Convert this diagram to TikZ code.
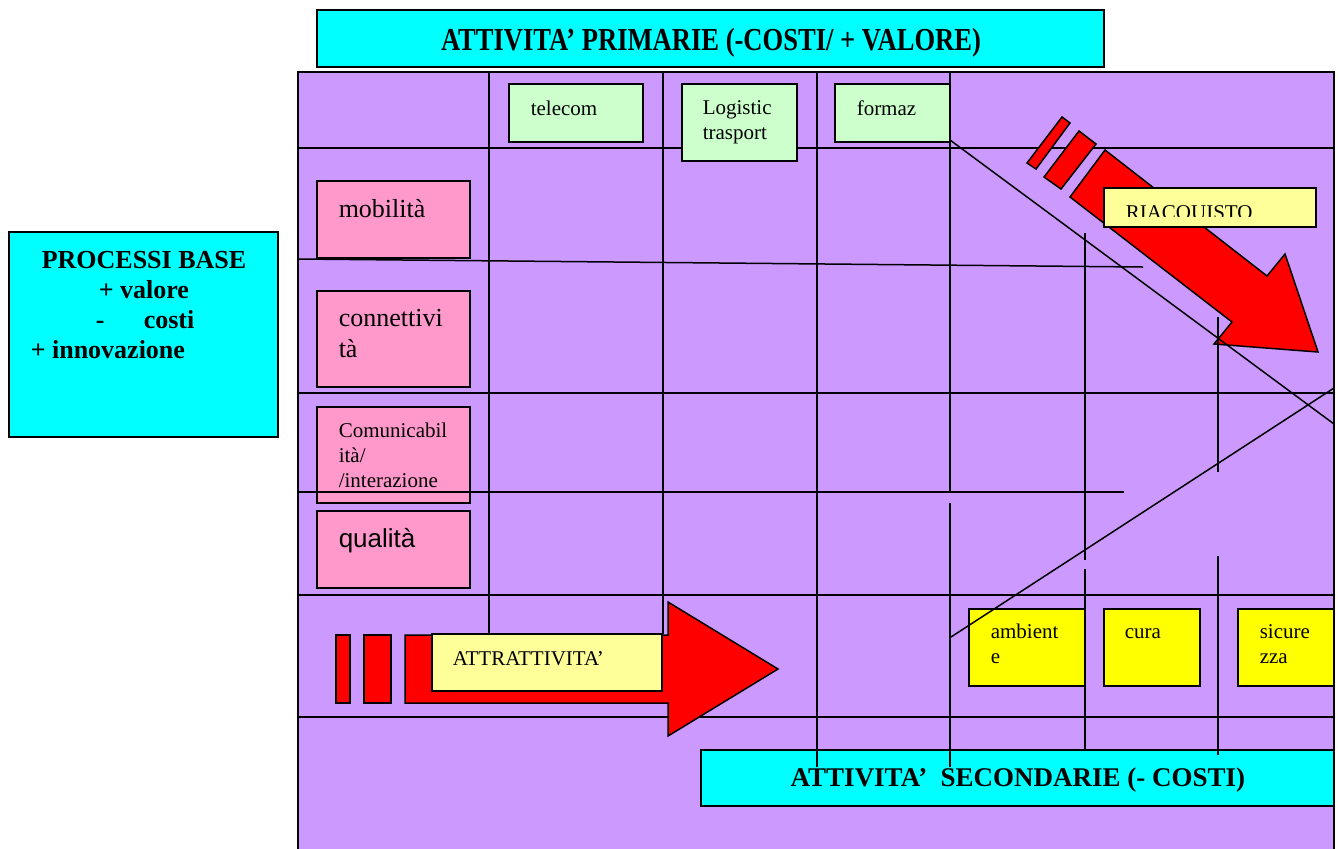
\documentclass[tikz,border=0pt]{standalone}
\usepackage{fontspec}
\usepackage{graphicx}
\setmainfont{Liberation Serif}
\newfontfamily\arialfont{Liberation Sans}
\definecolor{viola}{HTML}{CC99FF}
\definecolor{ciano}{HTML}{00FFFF}
\definecolor{rosa}{HTML}{FF99CC}
\definecolor{verdino}{HTML}{CCFFCC}
\definecolor{giallino}{HTML}{FFFF99}
\definecolor{giallo}{HTML}{FFFF00}
\definecolor{rosso}{HTML}{FF0000}
\begin{document}
\begin{tikzpicture}[x=0.5pt,y=-0.5pt,line width=0.75pt,
    testo/.style={inner sep=0pt,anchor=base west,font=\fontsize{10.5}{12}\selectfont},
    grande/.style={inner sep=0pt,anchor=base west,font=\fontsize{13}{15}\selectfont},
    titolo/.style={inner sep=0pt,anchor=base,font=\bfseries\fontsize{16}{18}\selectfont}]
    \useasboundingbox (0,0) rectangle (1338,848);
    % quadro
    \filldraw[fill=viola] (298,72) rectangle (1334,860);
    \filldraw[fill=ciano] (317,10) rectangle (1104,67);
    \node[titolo] (primarie) at (711,50) {\scalebox{0.83}[1]{ATTIVITA’ PRIMARIE (-COSTI/ + VALORE)}};
    \filldraw[fill=ciano] (9,232) rectangle (278,437);
    \node[titolo,font=\bfseries\fontsize{13}{15}\selectfont] (processi) at (144,268) {PROCESSI BASE};
    \node[grande,font=\bfseries\fontsize{13}{15}\selectfont] (valore) at (98,298) {+ valore};
    \node[grande,font=\bfseries\fontsize{13}{15}\selectfont] (meno) at (95,328) {-};
    \node[grande,font=\bfseries\fontsize{13}{15}\selectfont] (costi) at (143,328) {costi};
    \node[grande,font=\bfseries\fontsize{13}{15}\selectfont] (innov) at (30,358) {+ innovazione};
    \filldraw[fill=ciano] (701,750) rectangle (1334,806);
    \node[titolo,font=\bfseries\fontsize{13.5}{16}\selectfont] (secondarie) at (1018,786) {ATTIVITA’\ \ SECONDARIE (- COSTI)};
    % griglia
    \foreach \y in {148,393,595,717}
        \draw (298,\y) -- (1334,\y);
    \draw (298,259) -- (1143,267);
    \draw (298,492) -- (1124,492);
    \foreach \x in {489,663}
        \draw (\x,72) -- (\x,634);
    \draw (817,72) -- (817,767);
    \draw (950,72) -- (950,493);
    \draw (950,503) -- (950,767);
    % attivita primarie
    \filldraw[fill=verdino] (509,84) rectangle (643,142);
    \node[testo] (telecom) at (530,115) {telecom};
    \filldraw[fill=verdino] (682,84) rectangle (797,161);
    \node[testo] (logistic) at (702,114) {Logistic};
    \node[testo] (trasport) at (702,139) {trasport};
    \filldraw[fill=verdino] (835,84) rectangle (950,142);
    \node[testo] (formaz) at (856,115) {formaz};
    % processi base
    \filldraw[fill=rosa] (317,181) rectangle (470,258);
    \node[grande] (mobilita) at (338,217) {mobilità};
    \filldraw[fill=rosa] (317,291) rectangle (470,387);
    \node[grande] (conn1) at (338,326) {connettivi};
    \node[grande] (conn2) at (338,357) {tà};
    \filldraw[fill=rosa] (317,407) rectangle (470,503);
    \node[testo] (com1) at (338,437) {Comunicabil};
    \node[testo] (com2) at (338,462) {ità/};
    \node[testo] (com3) at (338,487) {/interazione};
    \draw (298,492) -- (490,492);
    \filldraw[fill=rosa] (317,511) rectangle (470,588);
    \node[grande,font=\arialfont\fontsize{13}{15}\selectfont] (qualita) at (338,547) {qualità};
    % attrattivita
    \filldraw[fill=rosso] (336,635) rectangle (350,703);
    \filldraw[fill=rosso] (364,635) rectangle (391,703);
    \filldraw[fill=rosso] (405,635) -- (668,635) -- (668,602) -- (778,669)
        -- (668,736) -- (668,703) -- (405,703) -- cycle;
    \filldraw[fill=giallino] (432,634) rectangle (662,691);
    \node[testo] (attrattivita) at (452,665) {ATTRATTIVITA’};
    % riacquisto
    \filldraw[fill=rosso] (1062,117) -- (1070,123) -- (1036,169) -- (1027,163) -- cycle;
    \filldraw[fill=rosso] (1079,131) -- (1096,144) -- (1061,189) -- (1044,177) -- cycle;
    \filldraw[fill=rosso] (1105,150) -- (1267,276) -- (1285,254) -- (1318,352)
        -- (1214,344) -- (1232,322) -- (1070,197) -- cycle;
    \filldraw[fill=giallino] (1104,188) rectangle (1316,227);
    \begin{scope}
        \clip (1104,188) rectangle (1316,216);
        \node[testo] (riacquisto) at (1125,219) {RIACQUISTO};
    \end{scope}
    % attivita secondarie
    \filldraw[fill=giallo] (969,609) rectangle (1085,686);
    \node[testo] (amb1) at (990,638) {ambient};
    \node[testo] (amb2) at (990,663) {e};
    \filldraw[fill=giallo] (1104,609) rectangle (1200,686);
    \node[testo] (cura) at (1124,638) {cura};
    \filldraw[fill=giallo] (1238,609) rectangle (1334,686);
    \node[testo] (sic1) at (1259,638) {sicure};
    \node[testo] (sic2) at (1259,663) {zza};
    \draw (1085,233) -- (1085,560);
    \draw (1085,569) -- (1085,749);
    \draw (1218,317) -- (1218,472);
    \draw (1218,556) -- (1218,755);
    \draw (950,140) -- (1334,424);
    \draw (951,637) -- (1334,388);
\end{tikzpicture}
\end{document}
